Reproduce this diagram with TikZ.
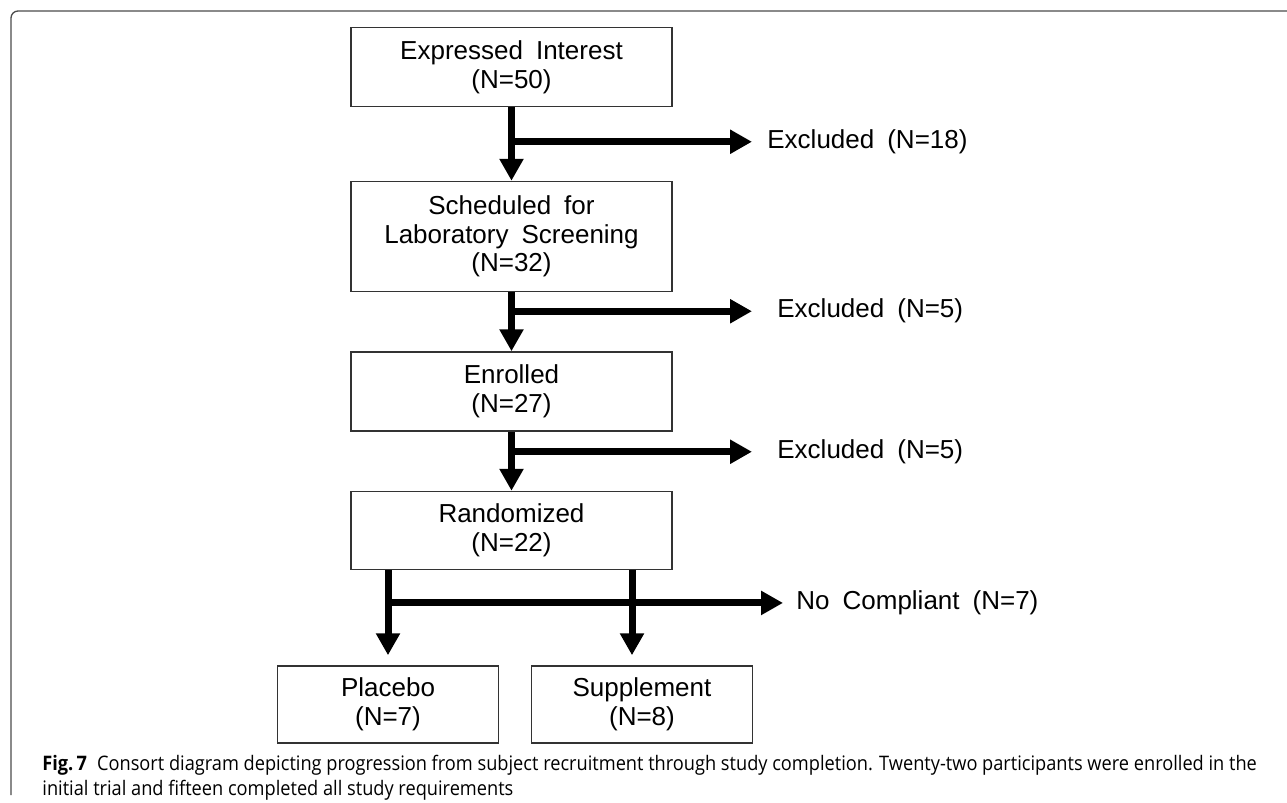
\documentclass[tikz,border=0pt]{standalone}
\usepackage{fontspec}
\setmainfont{Liberation Sans}[WordSpace=1.8]
\newfontfamily\capfont{Open Sans}[FakeStretch=0.91]
\usetikzlibrary{positioning, arrows.meta}
\begin{document}
\begin{tikzpicture}[node distance={30pt},
    box/.style = {draw=black!80, line width=0.75pt, minimum width=160.5pt, align=center, inner sep=0pt, font=\fontsize{13}{14.3}\selectfont},
    arm/.style = {box, minimum width=110.5pt, minimum height=38.5pt},
    lbl/.style = {anchor=west, inner ysep=0pt, inner xsep=#1, font=\fontsize{13}{14.3}\selectfont},
    lbl/.default = 7.5pt,
    flow/.style = {line width=3.5pt, -{Triangle[length=11pt, width=11.5pt]}}]
\useasboundingbox (0,0) rectangle (643.5pt,-401.5pt);
\draw[black!70, line width=0.65pt, rounded corners=3.5pt] (5.5pt,-397.5pt) -- (5.5pt,-5.5pt) -- (643.5pt,-5.5pt);

\node[box, minimum height=39.5pt] (interest) at (255.75pt,-33.6pt) {Expressed Interest\\(N=50)};
\node[box, minimum height=55pt, below=36.65pt of interest] (screening) {Scheduled for\\Laboratory Screening\\(N=32)};
\node[box, minimum height=39.5pt, below=29.5pt of screening] (enrolled) {Enrolled\\(N=27)};
\node[box, minimum height=39pt, below=29.5pt of enrolled] (randomized) {Randomized\\(N=22)};
\node[arm, below=47.5pt of randomized, xshift=-61.75pt] (placebo) {Placebo\\(N=7)};
\node[arm, below=47.5pt of randomized, xshift=65.25pt] (supplement) {Supplement\\(N=8)};

% split points on the main line
\coordinate (s1) at ([yshift=-17.15pt]interest.south);
\coordinate (s2) at ([yshift=-9.5pt]screening.south);
\coordinate (s3) at ([yshift=-10pt]enrolled.south);
\coordinate (p) at (randomized.south -| placebo.north);
\coordinate (q) at ([xshift=-5pt]randomized.south -| supplement.north);
\coordinate (s4) at ([yshift=-16.35pt]p);

\node[lbl] (excl1) at ([xshift=120.25pt]s1) {Excluded (N=18)};
\node[lbl=12.5pt] (excl2) at ([xshift=120.25pt]s2) {Excluded (N=5)};
\node[lbl=12.5pt] (excl3) at ([xshift=120.25pt]s3) {Excluded (N=5)};
\node[lbl=6.5pt] (nocomp) at ([xshift=197.5pt]s4) {No Compliant (N=7)};

\draw[flow] (interest) -- (screening);
\draw[flow] (screening) -- (enrolled);
\draw[flow] (enrolled) -- (randomized);
\draw[flow] (s1) -- (s1 -| excl1.west);
\draw[flow] (s2) -- (s2 -| excl2.west);
\draw[flow] (s3) -- (s3 -| excl3.west);
\draw[flow, shorten >=5pt] (p) -- (p |- placebo.north);
\draw[flow, shorten >=5pt] (q) -- (q |- supplement.north);
\draw[flow] (s4) -- (s4 -| nocomp.west);

\node[anchor=north west, align=left, inner sep=0pt, font=\capfont\fontsize{10}{12.2}\selectfont] (caption) at (21pt,-377.5pt)
  {\textbf{Fig.\,7}\enspace Consort diagram depicting progression from subject recruitment through study completion. Twenty-two participants were enrolled in the\\initial trial and fifteen completed all study requirements};
\end{tikzpicture}
\end{document}
